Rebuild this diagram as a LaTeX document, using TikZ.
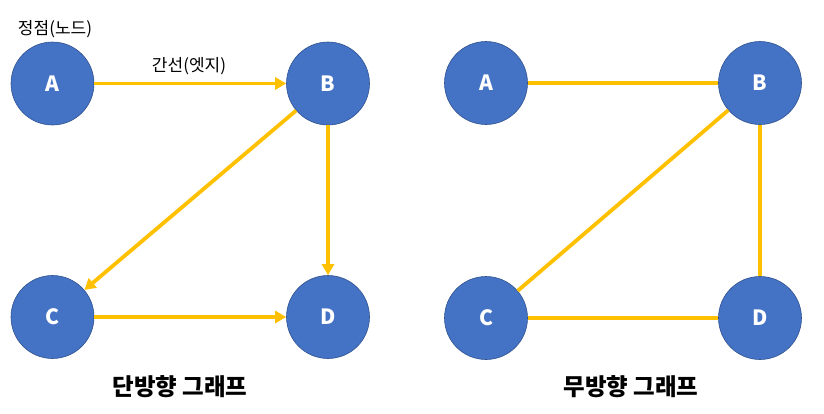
\documentclass[tikz,border=0pt]{standalone}
\usepackage{fontspec}
\setmainfont{Noto Sans CJK KR}
\usetikzlibrary{arrows.meta,positioning}
\definecolor{nodeblue}{HTML}{4472C4}
\definecolor{nodeline}{HTML}{2F528F}
\definecolor{edgegold}{HTML}{FFC000}

\begin{document}
\begin{tikzpicture}[
    x=1pt,
    y=-1pt,
    vertex/.style={circle,fill=nodeblue,draw=nodeline,line width=0.6pt,
        minimum size=83pt,inner sep=0pt,text=white,font=\fontsize{21}{21}\selectfont\bfseries},
    edge/.style={draw=edgegold,line width=3.8pt},
    arc/.style={edge,-{Triangle[length=11pt,width=12pt]}},
    lbl/.style={font=\fontsize{17}{17}\selectfont, inner sep=0pt},
    title/.style={font=\fontsize{23.5}{23.5}\selectfont\bfseries, inner sep=0pt}
]
\useasboundingbox (0,0) rectangle (824,413);

% directed graph
\node[vertex] (dA) at (52.5,83.5) {A};
\node[vertex] (dB) at (328,83.5) {B};
\node[vertex] (dC) at (52.5,317) {C};
\node[vertex] (dD) at (328,317) {D};

\draw[arc] (dA) -- (dB);
\draw[arc] (dB) -- (dC);
\draw[arc] (dB) -- (dD);
\draw[arc] (dC) -- (dD);

\node[lbl] (vtx) at (55,29.5) {정점(노드)};
\node[lbl] (edg) at (189,66) {간선(엣지)};
\node[title] (dtitle) at (180,387) {단방향 그래프};

% undirected graph
\node[vertex] (uA) at (486,83) {A};
\node[vertex] (uB) at (760,83) {B};
\node[vertex] (uC) at (486,318) {C};
\node[vertex] (uD) at (760,318) {D};

\draw[edge] (uA) -- (uB);
\draw[edge] (uB) -- (uC);
\draw[edge] (uB) -- (uD);
\draw[edge] (uC) -- (uD);

\node[title] (utitle) at (631,387) {무방향 그래프};
\end{tikzpicture}
\end{document}
